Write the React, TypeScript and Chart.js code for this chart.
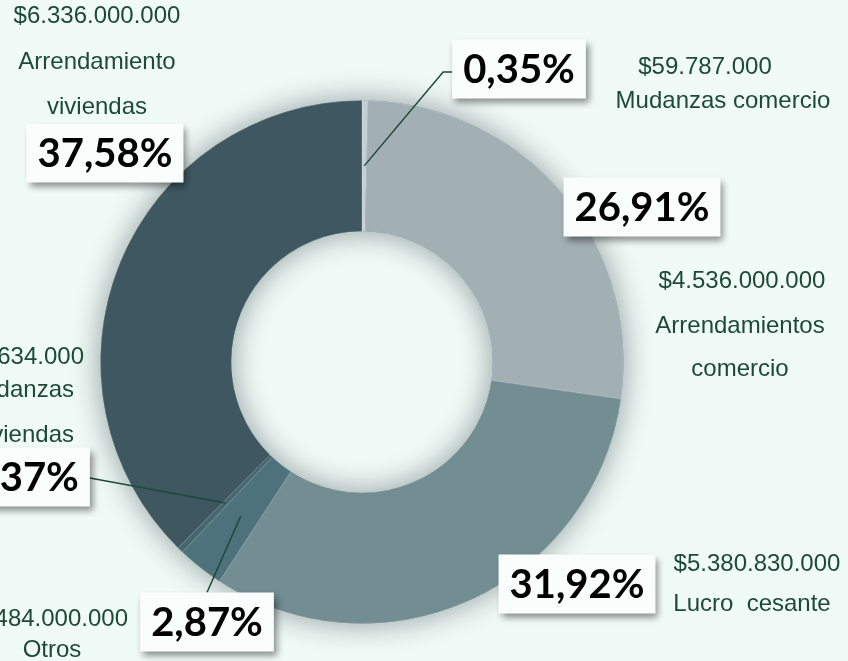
import React, { useEffect, useRef } from "react";
import { Chart, registerables } from "chart.js";

Chart.register(...registerables);

// ---- data ----
const categories = [
  "Mudanzas comercio",
  "Arrendamientos comercio",
  "Lucro cesante",
  "Otros",
  "Mudanzas viviendas",
  "Arrendamiento viviendas",
];
const amounts = [59787000, 4536000000, 5380830000, 484000000, 62634000, 6336000000];
const amountLabels = [
  "$59.787.000",
  "$4.536.000.000",
  "$5.380.830.000",
  "$484.000.000",
  "$62.634.000",
  "$6.336.000.000",
];
const percentLabels = ["0,35%", "26,91%", "31,92%", "2,87%", "0,37%", "37,58%"];
const nameLines = [
  ["Mudanzas comercio"],
  ["Arrendamientos", "comercio"],
  ["Lucro  cesante"],
  ["Otros"],
  ["Mudanzas", "viviendas"],
  ["Arrendamiento", "viviendas"],
];

// ---- styles ----
const sliceColors = ["#c5ced1", "#a2afb3", "#738e93", "#4e727b", "#47676f", "#3e5760"];
const BG = "#f0faf7";
const TEXT_GREEN = "#1d4a38";

// ---- label layout (positions of the annotation texts / boxes) ----
type Line = [number, number, CanvasTextAlign];
const boxCenters: [number, number][] = [
  [519, 69],
  [642, 207],
  [577, 584],
  [207, 622],
  [23, 477],
  [105, 153],
];
const textLines: Line[][] = [
  [[705, 67, "center"], [723, 101, "center"]],
  [[742, 281, "center"], [740, 326, "center"], [740, 369, "center"]],
  [[757, 564, "center"], [752, 604, "center"]],
  [[128, 619, "right"], [52, 650, "center"]],
  [[84, 357, "right"], [74, 390, "right"], [74, 435, "right"]],
  [[97, 16, "center"], [97, 62, "center"], [97, 107, "center"]],
];
// leader anchor: side of the box where the line starts, or null
const leaderSides: (string | null)[] = ["left", null, null, "top", "right", null];

const labelPlugin = {
  id: "labelPlugin",
  beforeDatasetsDraw(chart: any) {
    const meta = chart.getDatasetMeta(0);
    const a = meta.data[0];
    if (!a) return;
    const { x, y, outerRadius, innerRadius } = a;
    const ctx = chart.ctx;
    ctx.save();
    ctx.beginPath();
    ctx.arc(x, y, outerRadius, 0, Math.PI * 2, false);
    ctx.arc(x, y, innerRadius, 0, Math.PI * 2, true);
    ctx.closePath();
    ctx.shadowColor = "rgba(20,40,40,0.45)";
    ctx.shadowBlur = 30;
    ctx.fillStyle = "#5a727a";
    ctx.fill("evenodd");
    ctx.restore();
  },
  afterDraw(chart: any) {
    const ctx = chart.ctx;
    const meta = chart.getDatasetMeta(0);
    ctx.save();
    // value / name texts
    ctx.font = "24px Arial, 'Liberation Sans', sans-serif";
    ctx.fillStyle = TEXT_GREEN;
    ctx.textBaseline = "middle";
    for (let i = 0; i < categories.length; i++) {
      const texts = [amountLabels[i], ...nameLines[i]];
      texts.forEach((t, j) => {
        const [lx, ly, al] = textLines[i][j];
        ctx.textAlign = al;
        ctx.fillText(t, lx, ly);
      });
    }
    // percent boxes and leader lines
    ctx.font = "bold 40px Lato, 'Open Sans', sans-serif";
    for (let i = 0; i < categories.length; i++) {
      const [cx, cy] = boxCenters[i];
      const tw = ctx.measureText(percentLabels[i]).width;
      const bw = tw + 22;
      const bh = 59;
      const bx = cx - bw / 2;
      const by = cy - bh / 2;
      const side = leaderSides[i];
      if (side) {
        const arc = meta.data[i];
        const p = arc.getCenterPoint();
        ctx.save();
        ctx.strokeStyle = TEXT_GREEN;
        ctx.lineWidth = 1.5;
        ctx.beginPath();
        if (side === "left") {
          ctx.moveTo(bx, cy + 3);
          ctx.lineTo(bx - 9, cy + 3);
        } else if (side === "right") {
          ctx.moveTo(bx + bw, cy + 1);
        } else {
          ctx.moveTo(cx, by);
        }
        ctx.lineTo(p.x, p.y);
        ctx.stroke();
        ctx.restore();
      }
      ctx.save();
      ctx.shadowColor = "rgba(0,0,0,0.45)";
      ctx.shadowBlur = 7;
      ctx.shadowOffsetX = 3;
      ctx.shadowOffsetY = 4;
      ctx.fillStyle = "#f9fdfc";
      ctx.fillRect(bx, by, bw, bh);
      ctx.restore();
      ctx.fillStyle = "#000000";
      ctx.textAlign = "center";
      ctx.textBaseline = "middle";
      ctx.fillText(percentLabels[i], cx, cy + 1);
    }
    ctx.restore();
  },
};

export default function App() {
  const ref = useRef<HTMLCanvasElement>(null);
  useEffect(() => {
    if (!ref.current) return;
    const chart = new Chart(ref.current, {
      type: "doughnut",
      data: {
        labels: categories,
        datasets: [
          {
            data: amounts,
            backgroundColor: sliceColors,
            borderColor: "rgba(255,255,255,0.18)",
            borderWidth: 1,
          },
        ],
      },
      options: {
        responsive: false,
        animation: false,
        devicePixelRatio: 1,
        cutout: "50%",
        layout: { padding: { left: 100, right: 224, top: 100, bottom: 37 } },
        plugins: { legend: { display: false }, tooltip: { enabled: false } },
      },
      plugins: [labelPlugin],
    });
    return () => chart.destroy();
  }, []);
  return (
    <div
      style={{
        position: "fixed",
        left: 0,
        top: 0,
        width: 848,
        height: 661,
        background: BG,
        overflow: "hidden",
      }}
    >
      <canvas ref={ref} width={848} height={661} style={{ display: "block" }} />
    </div>
  );
}
